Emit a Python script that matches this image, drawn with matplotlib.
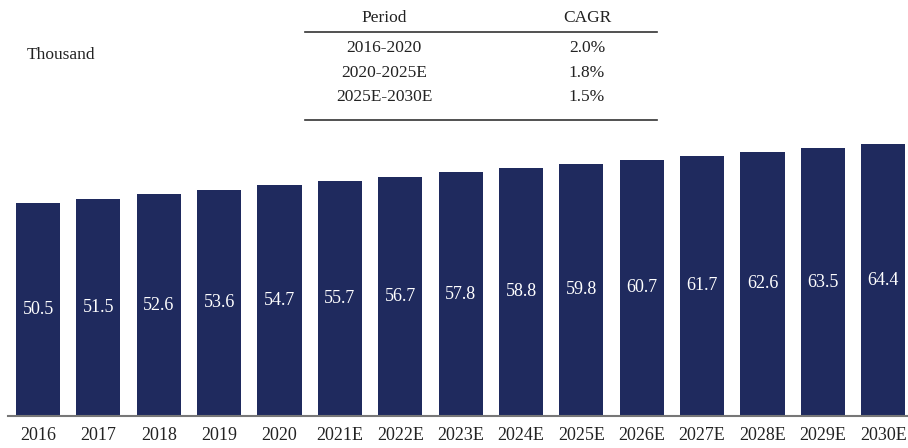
import matplotlib
matplotlib.use("Agg")
import matplotlib.pyplot as plt

plt.rcParams['font.family'] = ['Liberation Serif', 'DejaVu Serif']

# data
years = ['2016', '2017', '2018', '2019', '2020', '2021E', '2022E', '2023E',
         '2024E', '2025E', '2026E', '2027E', '2028E', '2029E', '2030E']
values = [50.5, 51.5, 52.6, 53.6, 54.7, 55.7, 56.7, 57.8,
          58.8, 59.8, 60.7, 61.7, 62.6, 63.5, 64.4]
periods = ['2016-2020', '2020-2025E', '2025E-2030E']
cagr = ['2.0%', '1.8%', '1.5%']

W, H = 908, 448
fig = plt.figure(figsize=(W / 100, H / 100), dpi=100)

# axes placed in pixel terms: left 8, right 908, baseline at y=416, top at y=130
ax = fig.add_axes([8 / W, (H - 416) / H, 900 / W, (416 - 130) / H])
x = list(range(len(years)))
bars = ax.bar(x, values, width=0.73, color='#1f2a5e')
ax.set_xlim(-0.497, 14.41)
ax.set_ylim(0, 67.8)

for b, v in zip(bars, values):
    ax.text(b.get_x() + b.get_width() / 2, v / 2, f'{v:.1f}',
            ha='center', va='center', color='white', fontsize=13)

ax.set_xticks(x)
ax.set_xticklabels(years, fontsize=13, color='#222222')
ax.tick_params(axis='x', length=0, pad=8)
ax.set_yticks([])
for s in ['top', 'right', 'left']:
    ax.spines[s].set_visible(False)
ax.spines['bottom'].set_color('#777777')
ax.spines['bottom'].set_linewidth(1.5)

# unit label
fig.text(27 / W, 1 - 55 / H, 'Thousand', fontsize=12.5, color='#222222',
         ha='left', va='center')

# CAGR table
col1, col2 = 384 / W, 587 / W
fig.text(col1, 1 - 18 / H, 'Period', fontsize=12.5, color='#222222', ha='center', va='center')
fig.text(col2, 1 - 18 / H, 'CAGR', fontsize=12.5, color='#222222', ha='center', va='center')
row_y = [48, 73, 97]
for p, c, yy in zip(periods, cagr, row_y):
    fig.text(col1, 1 - yy / H, p, fontsize=12.5, color='#222222', ha='center', va='center')
    fig.text(col2, 1 - yy / H, c, fontsize=12.5, color='#222222', ha='center', va='center')
for yy in [32, 120]:
    fig.add_artist(plt.Line2D([305 / W, 657 / W], [1 - yy / H, 1 - yy / H],
                              color='#333333', linewidth=1.2))

fig.savefig('out.png', dpi=100)
